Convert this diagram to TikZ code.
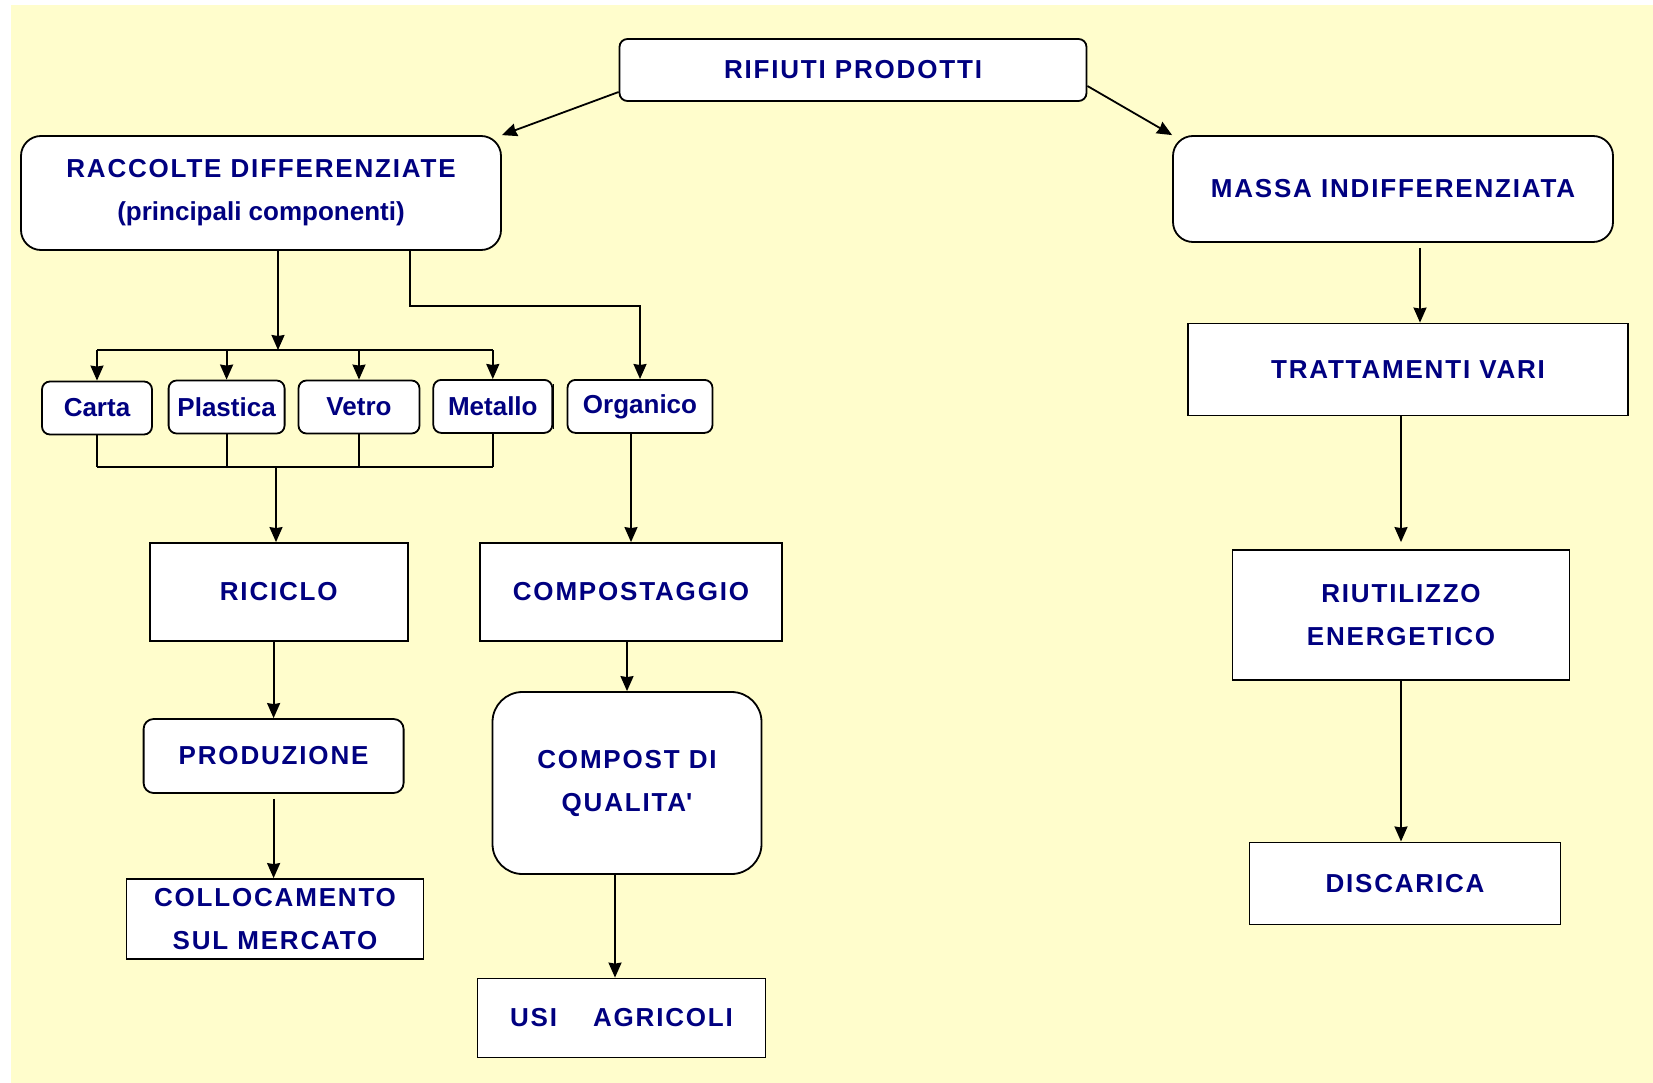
\documentclass[tikz,border=0pt]{standalone}
\usepackage{fontspec}
\setmainfont{Liberation Sans}
\newfontfamily\spaziato[LetterSpace=7]{Liberation Sans}
\usetikzlibrary{arrows.meta}
\definecolor{sfondo}{RGB}{255,253,204}
\definecolor{blu}{RGB}{0,0,128}

\begin{document}
\begin{tikzpicture}[x=1pt,y=-1pt,line width=1.8pt,
  >={Stealth[length=15pt,width=13pt,inset=1pt]},
  casella/.style={draw,fill=white,text=blu,align=center,inner sep=0pt,
    font=\fontsize{26}{43}\selectfont\bfseries\spaziato},
  tonda/.style={casella,rounded corners=#1},
  piccola/.style={tonda=8pt,minimum height=53pt,font=\fontsize{26}{43}\selectfont\bfseries\rmfamily}]
		\useasboundingbox (0,0) rectangle (1653,1083);
		\fill[sfondo] (10.5,5.3) rectangle (1653,1083);
		% vertice
		\node[tonda=8pt,minimum width=467pt,minimum height=62pt] (rif) at (853,70) {RIFIUTI PRODOTTI};
		\node[tonda=20pt,minimum width=480pt,minimum height=114pt] (rac) at (261,193) {RACCOLTE DIFFERENZIATE\\{\rmfamily(principali componenti)}};
		\node[tonda=20pt,minimum width=440pt,minimum height=106pt] (mas) at (1393,189) {MASSA INDIFFERENZIATA};
		% componenti
		\node[piccola,minimum width=110pt] (carta) at (97,408) {Carta};
		\node[piccola,minimum width=116pt] (plastica) at (226.6,407) {Plastica};
		\node[piccola,minimum width=121pt] (vetro) at (359,407) {Vetro};
		\node[piccola,minimum width=119pt] (metallo) at (492.8,406.4) {Metallo};
		\node[piccola,minimum width=145pt] (organico) at (640,406.4) {Organico};
		% ramo sinistro
		\node[casella,minimum width=258pt,minimum height=98pt] (ric) at (278.8,592) {RICICLO};
		\node[tonda=10pt,minimum width=260pt,minimum height=74pt] (prod) at (273.6,756) {PRODUZIONE};
		\node[casella,minimum width=297pt,minimum height=80pt] (coll) at (275,919) {COLLOCAMENTO\\SUL MERCATO};
		% ramo centrale
		\node[casella,minimum width=302pt,minimum height=98pt] (comp) at (631,592) {COMPOSTAGGIO};
		\node[tonda=30pt,minimum width=269pt,minimum height=182pt] (compost) at (627,783) {COMPOST DI\\QUALITA\textquotesingle};
		\node[casella,minimum width=288pt,minimum height=79pt] (usi) at (621.5,1018) {USI\hspace{36pt}AGRICOLI};
		% ramo destro
		\node[casella,minimum width=440pt,minimum height=92pt] (tratt) at (1408,369.5) {TRATTAMENTI VARI};
		\node[casella,minimum width=337pt,minimum height=130pt] (riut) at (1401,615) {RIUTILIZZO\\ENERGETICO};
		\node[casella,minimum width=311pt,minimum height=82pt] (disc) at (1405,883.4) {DISCARICA};
		\draw[line width=1.4pt] ([xshift=0.5pt,yshift=-5pt]metallo.north east) -- ([xshift=0.5pt,yshift=5pt]metallo.south east);
		% collegamenti
		\draw[->] ([yshift=-22pt]rif.west) -- (rac.north east);
		\draw[->] ([yshift=-16pt]rif.east) -- (mas.north west);
		\coordinate (bus1) at (278,350);
		\coordinate (bus2) at (276,467);
		\coordinate (gomito) at (410,306);
		\draw[->] (bus1 |- rac.south) -- (bus1);
		\draw (carta.north |- bus1) -- (metallo.north |- bus1);
		\draw (carta.south |- bus2) -- (metallo.south |- bus2);
		\foreach \b in {carta,plastica,vetro,metallo} {
			\draw[->] (\b.north |- bus1) -- (\b.north);
			\draw (\b.south) -- (\b.south |- bus2);
		}
		\draw[->] (gomito |- rac.south) -- (gomito) -| (organico.north);
		\draw[->] (bus2) -- (bus2 |- ric.north);
		\draw[->] (comp.north |- organico.south) -- (comp.north);
		\draw[->] (prod.north |- ric.south) -- (prod.north);
		\draw[->] ([yshift=-5pt]prod.south) -- (prod.south |- coll.north);
		\draw[->] (compost.north |- comp.south) -- (compost.north);
		\draw[->] ([xshift=-12pt]compost.south) -- ([xshift=-12pt]compost.south |- usi.north);
		\draw[->] ([xshift=27pt,yshift=-5pt]mas.south) -- ([xshift=27pt]mas.south |- tratt.north);
		\draw[->] (riut.north |- tratt.south) -- ([yshift=7pt]riut.north);
		\draw[->] (riut.south) -- (riut.south |- disc.north);
\end{tikzpicture}
\end{document}
